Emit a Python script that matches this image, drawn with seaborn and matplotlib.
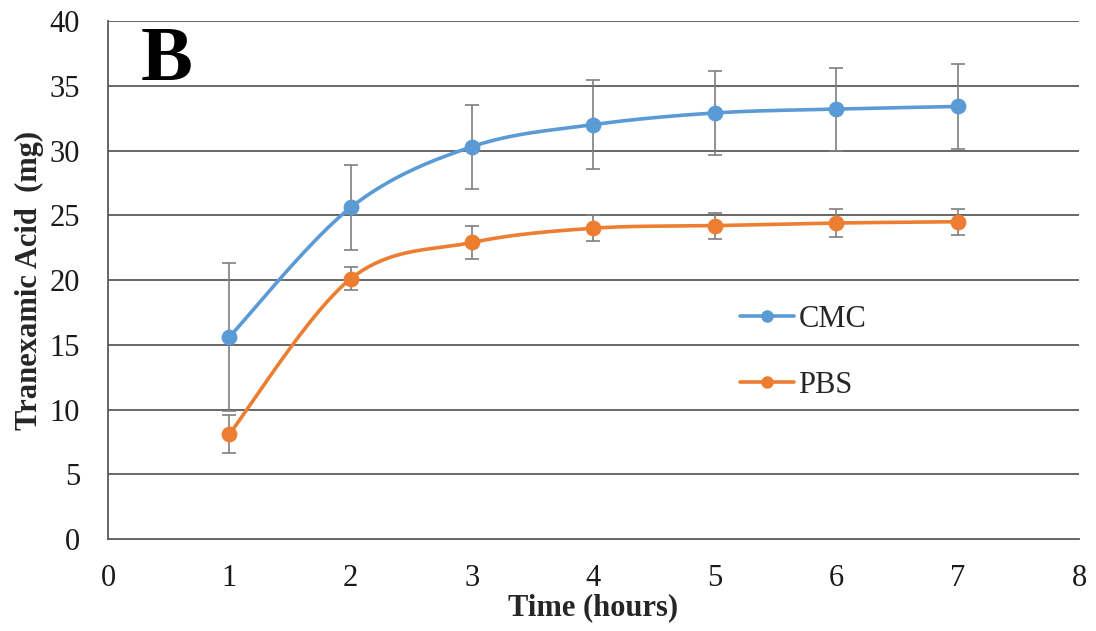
import numpy as np
import pandas as pd
import matplotlib
matplotlib.use("Agg")
import matplotlib.pyplot as plt
import seaborn as sns
from matplotlib.lines import Line2D

# ---- data ----
time_h = [1, 2, 3, 4, 5, 6, 7]
cmc_mean = [15.6, 25.6, 30.3, 32.0, 32.9, 33.2, 33.4]
cmc_err = [5.75, 3.3, 3.25, 3.45, 3.25, 3.2, 3.25]
pbs_mean = [8.1, 20.1, 22.9, 24.0, 24.2, 24.4, 24.5]
pbs_err = [1.45, 0.9, 1.3, 1.0, 1.0, 1.05, 1.0]
series_names = ["CMC", "PBS"]
x_ticks = [0, 1, 2, 3, 4, 5, 6, 7, 8]
y_ticks = [0, 5, 10, 15, 20, 25, 30, 35, 40]

colors = {"CMC": "#5B9BD5", "PBS": "#ED7D31"}


def smooth_path(xs, ys, n=40):
    """Excel-like smoothed line (Catmull-Rom Bezier through the data points)."""
    P = np.column_stack([xs, ys]).astype(float)
    ext = np.vstack([P[0], P, P[-1]])
    out = []
    t = np.linspace(0, 1, n)
    for i in range(len(P) - 1):
        p0, p1, p2, p3 = ext[i], ext[i + 1], ext[i + 2], ext[i + 3]
        c1 = p1 + (p2 - p0) / 6.0
        c2 = p2 - (p3 - p1) / 6.0
        seg = ((1 - t) ** 3)[:, None] * p1 + (3 * (1 - t) ** 2 * t)[:, None] * c1 \
            + (3 * (1 - t) * t ** 2)[:, None] * c2 + (t ** 3)[:, None] * p2
        out.append(seg if i == 0 else seg[1:])
    return np.vstack(out)


sns.set_theme(style="white")
plt.rcParams["font.family"] = ["Liberation Serif", "DejaVu Serif"]

fig = plt.figure(figsize=(10.96, 6.31), dpi=100)
ax = fig.add_axes([0.0985, 0.1458, 0.8860, 0.8209])

for y in y_ticks[1:]:
    ax.axhline(y, color="#3f3f3f", lw=1.1, zorder=1)

data = {"CMC": (cmc_mean, cmc_err), "PBS": (pbs_mean, pbs_err)}
for name in series_names:
    mean, err = data[name]
    ax.errorbar(time_h, mean, yerr=err, fmt="none", ecolor="#7f7f7f",
                elinewidth=1.2, capsize=5, capthick=1.2, zorder=2)
    path = smooth_path(time_h, mean)
    df = pd.DataFrame({"x": path[:, 0], "y": path[:, 1]})
    sns.lineplot(data=df, x="x", y="y", sort=False, estimator=None,
                 color=colors[name], lw=2.6, ax=ax, zorder=3)
    sns.scatterplot(x=time_h, y=mean, color=colors[name], s=130,
                    edgecolor=colors[name], linewidth=0, ax=ax, zorder=4)

ax.set_xlim(0, 8)
ax.set_ylim(0, 40)
ax.set_xticks(x_ticks)
ax.set_yticks(y_ticks)
ax.set_xticklabels([str(v) for v in x_ticks])
ax.set_yticklabels([str(v) for v in y_ticks])
ax.tick_params(axis="x", length=0, pad=18, labelsize=22, labelcolor="#1a1a1a")
ax.tick_params(axis="y", length=0, pad=20, labelsize=22, labelcolor="#1a1a1a")

for s in ["top", "right"]:
    ax.spines[s].set_visible(False)
for s in ["left", "bottom"]:
    ax.spines[s].set_color("#595959")
    ax.spines[s].set_linewidth(1.3)

ax.set_xlabel("Time (hours)", fontsize=22, fontweight="bold", labelpad=0)
ax.set_ylabel("Tranexamic Acid  (mg)", fontsize=22, fontweight="bold", labelpad=4)

ax.text(0.034, 0.886, "B", transform=ax.transAxes, fontsize=56,
        fontweight="bold", ha="left", va="baseline", color="black")

handles = [Line2D([0], [0], color=colors[n], lw=2.6, marker="o", markersize=8)
           for n in series_names]
ax.legend(handles, series_names, loc="center left", bbox_to_anchor=(0.623, 0.36),
          frameon=False, fontsize=22, handlelength=1.75, handletextpad=0.15,
          labelspacing=1.2)

fig.savefig("out.png", dpi=100)
